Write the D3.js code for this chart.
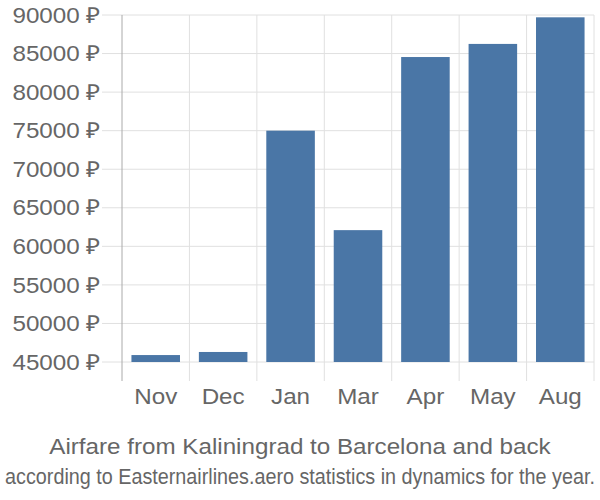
<!DOCTYPE html>
<html><head><meta charset="utf-8">
<script src="https://cdn.jsdelivr.net/npm/d3@7"></script>
<style>body{margin:0;background:#fff}text{font-family:"Liberation Sans",Arial,sans-serif}</style>
</head><body><svg id="c" width="600" height="500"></svg>
<script>
(function(){
const categories = ["Nov","Dec","Jan","Mar","Apr","May","Aug"];
const values = [45900, 46300, 75000, 62100, 84550, 86250, 89700];
const yTicks = [45000,50000,55000,60000,65000,70000,75000,80000,85000,90000];
const title = "Airfare from Kaliningrad to Barcelona and back";
const subtitle = "according to Easternairlines.aero statistics in dynamics for the year.";

const svg = d3.select("#c");
const pLeft = 122, pRight = 594, pTop = 15, pBase = 362, pAxisBottom = 381;
const sx = 1.1;
const x = d3.scaleBand().domain(categories).range([pLeft, pRight]).paddingInner(0.28).paddingOuter(0.14);
const y = d3.scaleLinear().domain([45000, 90000]).range([pBase, pTop]);

svg.append("g").selectAll("line").data(yTicks).join("line")
  .attr("x1", 102).attr("x2", pRight).attr("y1", d => y(d)).attr("y2", d => y(d))
  .attr("stroke", "#e0e0e0").attr("stroke-width", 1);
const bnd = d3.range(categories.length + 1).map(i => pLeft + i * x.step());
svg.append("g").selectAll("line").data(bnd).join("line")
  .attr("x1", d => d).attr("x2", d => d).attr("y1", pTop).attr("y2", pAxisBottom)
  .attr("stroke", (d, i) => i === 0 ? "#aaaaaa" : "#e0e0e0").attr("stroke-width", 1);

svg.append("g").selectAll("text").data(yTicks).join("text")
  .attr("transform", d => `translate(100,${y(d)}) scale(${sx},1)`).attr("dy", "0.35em").attr("text-anchor", "end")
  .attr("font-size", 22).attr("fill", "#666").text(d => d + " ₽");

svg.append("g").selectAll("rect").data(values).join("rect")
  .attr("x", (d, i) => x(categories[i])).attr("width", x.bandwidth())
  .attr("y", d => y(d)).attr("height", d => y(45000) - y(d))
  .attr("fill", "#4a76a6");

svg.append("g").selectAll("text").data(categories).join("text")
  .attr("transform", d => `translate(${x(d) + x.bandwidth()/2},404) scale(${sx},1)`).attr("text-anchor", "middle")
  .attr("font-size", 22).attr("fill", "#666").text(d => d);

svg.append("text").attr("transform", `translate(300,454) scale(${sx},1)`).attr("text-anchor", "middle")
  .attr("font-size", 22).attr("fill", "#666").text(title);
const sub = svg.append("text").attr("text-anchor", "middle")
  .style("font-family", "'Liberation Sans Narrow', 'Liberation Sans', sans-serif")
  .attr("font-size", 22).attr("fill", "#666").text(subtitle);
const w = sub.node().getComputedTextLength();
const k = Math.min(1, 590 / w);
sub.attr("transform", `translate(300,484) scale(${k},1)`);
})();
</script></body></html>
